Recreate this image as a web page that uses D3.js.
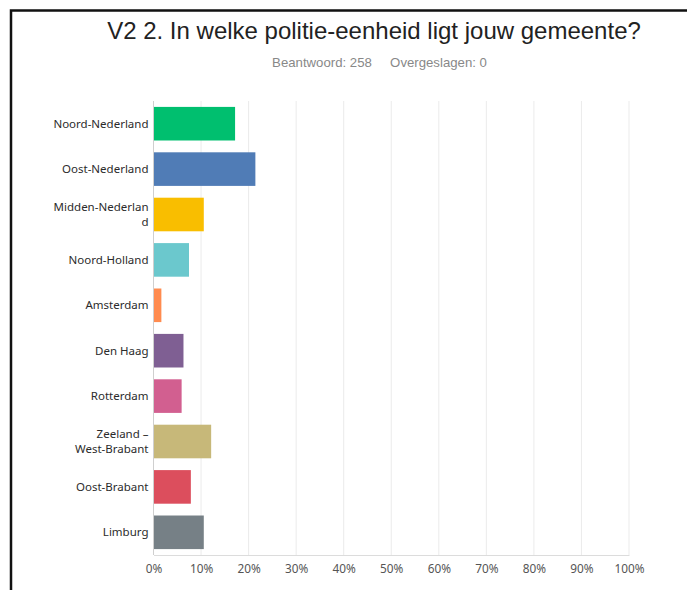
<!DOCTYPE html>
<html>
<head>
<meta charset="utf-8">
<script src="https://cdn.jsdelivr.net/npm/d3@7"></script>
<style>
  body { margin: 0; background: #fff; }
  svg { display: block; }
</style>
</head>
<body>
<div id="chart"></div>
<script>
// survey answers, percent of 258 respondents
const categories = ["Noord-Nederland", "Oost-Nederland", "Midden-Nederland", "Noord-Holland", "Amsterdam",
                    "Den Haag", "Rotterdam", "Zeeland – West-Brabant", "Oost-Brabant", "Limburg"];
const labelLines = [["Noord-Nederland"], ["Oost-Nederland"], ["Midden-Nederlan", "d"], ["Noord-Holland"], ["Amsterdam"],
                    ["Den Haag"], ["Rotterdam"], ["Zeeland –", "West-Brabant"], ["Oost-Brabant"], ["Limburg"]];
const values = [17.05, 21.32, 10.47, 7.36, 1.55, 6.20, 5.81, 12.02, 7.75, 10.47];
const colors = ["#00bf6f", "#507cb6", "#f9be00", "#6bc8cd", "#ff8b4f", "#7f5f93", "#d25f90", "#c7b879", "#dc4e5d", "#768086"];
const ticks = [0, 10, 20, 30, 40, 50, 60, 70, 80, 90, 100];

const width = 687, height = 590;
const margin = { top: 101, left: 153.5, right: 58, bottom: 35 };
const plotW = width - margin.left - margin.right,
      plotH = height - margin.top - margin.bottom;

const svg = d3.select("#chart").append("svg")
    .attr("width", width)
    .attr("height", height);

// frame
svg.append("path")
    .attr("d", `M11,${height} V10.5 H${width}`)
    .attr("fill", "none")
    .attr("stroke", "#111")
    .attr("stroke-width", 2.5);

svg.append("text")
    .attr("x", 374)
    .attr("y", 39)
    .attr("text-anchor", "middle")
    .style("font-family", "'Liberation Sans', Arial, sans-serif")
    .style("font-size", "24px")
    .style("fill", "#222")
    .text("V2 2. In welke politie-eenheid ligt jouw gemeente?");

svg.append("text")
    .attr("x", 379.5)
    .attr("y", 67)
    .attr("text-anchor", "middle")
    .attr("xml:space", "preserve")
    .style("font-family", "'Liberation Sans', Arial, sans-serif")
    .style("font-size", "13.2px")
    .style("fill", "#888")
    .text("Beantwoord: 258     Overgeslagen: 0");

const xScale = d3.scaleLinear().domain([0, 100]).range([0, plotW]);
const yScale = d3.scaleBand().domain(categories).range([0, plotH]).paddingInner(0.26).paddingOuter(0.13);

const g = svg.append("g")
    .attr("transform", `translate(${margin.left},${margin.top})`);

// grid
g.append("g")
    .selectAll("line")
    .data(ticks.slice(1))
    .enter()
    .append("line")
    .attr("x1", d => xScale(d)).attr("x2", d => xScale(d))
    .attr("y1", 0).attr("y2", plotH)
    .attr("stroke", "#ebebeb")
    .attr("stroke-width", 1);

const xAxis = g.append("g")
    .attr("transform", `translate(0,${plotH})`)
    .call(d3.axisBottom(xScale).tickValues(ticks).tickFormat(d => d + "%").tickSize(0).tickPadding(10));
xAxis.select(".domain").attr("stroke", "#dcdcdc");
xAxis.selectAll("text")
    .style("font-family", "'Noto Sans', sans-serif")
    .style("font-size", "11.8px")
    .style("fill", "#555");

g.append("line")
    .attr("x1", 0).attr("x2", 0)
    .attr("y1", 0).attr("y2", plotH)
    .attr("stroke", "#cfcfcf");

g.append("g")
    .selectAll("rect")
    .data(values)
    .enter()
    .append("rect")
    .attr("x", 0.5)
    .attr("y", (d, i) => yScale(categories[i]))
    .attr("width", d => xScale(d))
    .attr("height", yScale.bandwidth())
    .attr("fill", (d, i) => colors[i]);

const labels = g.append("g")
    .selectAll("text")
    .data(labelLines)
    .enter()
    .append("text")
    .attr("x", -5)
    .attr("y", (d, i) => yScale(categories[i]) + yScale.bandwidth() / 2)
    .attr("text-anchor", "end")
    .style("font-family", "'Noto Sans', sans-serif")
    .style("font-size", "11.5px")
    .style("fill", "#2b2b2b");

labels.each(function(lines) {
    const t = d3.select(this);
    lines.forEach((line, j) => {
        t.append("tspan")
            .attr("x", -5)
            .attr("dy", j === 0 ? (0.35 - (lines.length - 1) * 0.62) + "em" : "1.24em")
            .text(line);
    });
});
</script>
</body>
</html>
